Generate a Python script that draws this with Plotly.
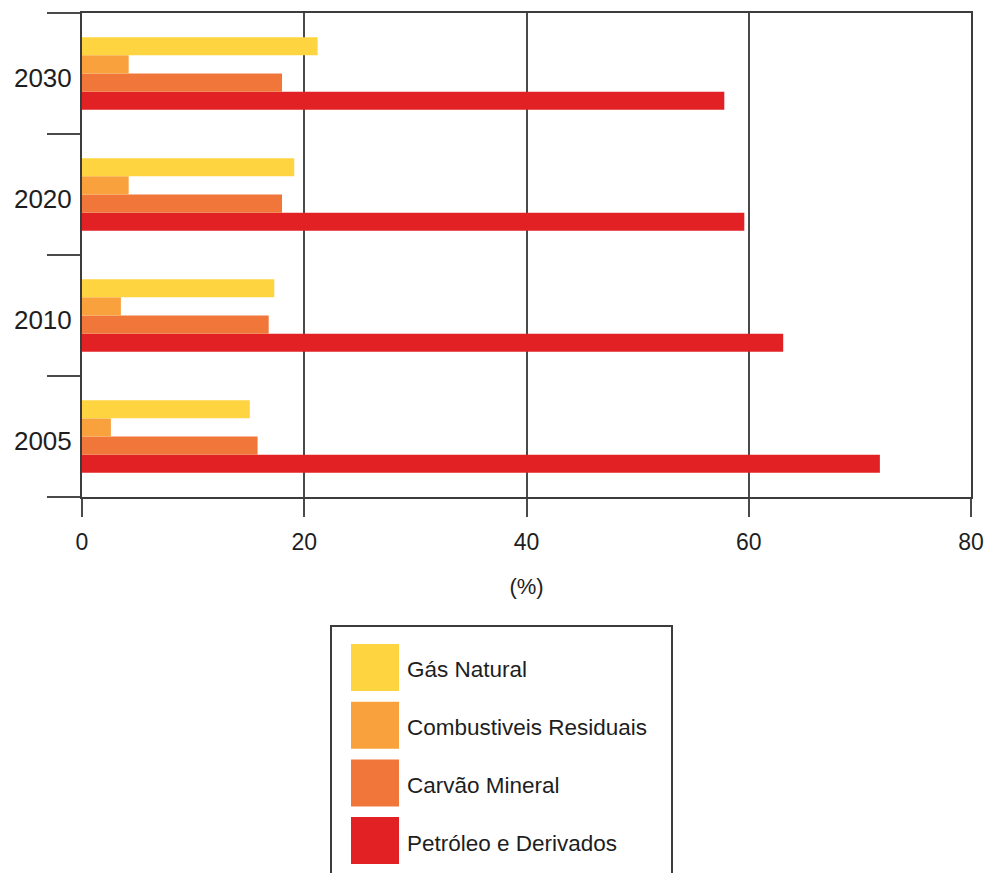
import plotly.graph_objects as go

# Participação das fontes fósseis (%) por ano
anos = ["2005", "2010", "2020", "2030"]
fontes = ["Gás Natural", "Combustiveis Residuais", "Carvão Mineral", "Petróleo e Derivados"]
gas_natural = [15.1, 17.3, 19.1, 21.2]
combustiveis_residuais = [2.6, 3.5, 4.2, 4.2]
carvao_mineral = [15.8, 16.8, 18.0, 18.0]
petroleo_derivados = [71.8, 63.1, 59.6, 57.8]
valores = [gas_natural, combustiveis_residuais, carvao_mineral, petroleo_derivados]
cores = ["#FED441", "#F9A23D", "#F1763A", "#E22124"]
x_ticks = [0, 20, 40, 60, 80]

W, H = 988, 873
ML, MR, MT, MB = 82, 17, 13, 376
PW, PH = W - ML - MR, H - MT - MB
FONT = "Liberation Sans, Arial, sans-serif"
TXT = "#1e1e1e"
LINE = "#3c3c3c"


def px_x(px):
    return (px - ML) / PW


def px_y(py):
    return (H - MB - py) / PH


fig = go.Figure()
# Plotly stacks grouped horizontal bars bottom-up, so add the last series first
for nome, vals, cor in reversed(list(zip(fontes, valores, cores))):
    fig.add_trace(go.Bar(
        y=anos, x=vals, name=nome, orientation="h",
        marker=dict(color=cor, line=dict(width=0)),
        showlegend=False,
    ))

# Legend box drawn by hand so the swatches can be large squares
shapes = [dict(type="rect", xref="paper", yref="paper",
               x0=px_x(331), x1=px_x(672), y0=px_y(626), y1=px_y(905),
               line=dict(color=LINE, width=2), fillcolor="white", layer="below")]
annotations = []
for i, (nome, cor) in enumerate(zip(fontes, cores)):
    top = 644 + i * 57.7
    shapes.append(dict(type="rect", xref="paper", yref="paper",
                       x0=px_x(351), x1=px_x(399), y0=px_y(top), y1=px_y(top + 47),
                       line=dict(width=0), fillcolor=cor))
    annotations.append(dict(xref="paper", yref="paper", x=px_x(405), y=px_y(top + 26),
                            text=nome, showarrow=False, xanchor="left", yanchor="middle",
                            font=dict(family=FONT, size=22.5, color=TXT)))

fig.update_layout(
    width=W, height=H,
    margin=dict(l=ML, r=MR, t=MT, b=MB, autoexpand=False),
    paper_bgcolor="white", plot_bgcolor="white",
    barmode="group", bargap=0.4, bargroupgap=0,
    shapes=shapes, annotations=annotations,
    font=dict(family=FONT, color=TXT),
    xaxis=dict(
        range=[0, 80], tickvals=x_ticks, ticktext=[str(v) for v in x_ticks],
        automargin=False,
        showgrid=True, gridcolor="#4a4a4a", gridwidth=2,
        zeroline=False,
        showline=True, linecolor=LINE, linewidth=2, mirror=True,
        ticks="outside", ticklen=18, tickwidth=2, tickcolor="#4a4a4a",
        ticklabelstandoff=5,
        tickfont=dict(family=FONT, size=23, color=TXT),
        title=dict(text="(%)", font=dict(family=FONT, size=22, color=TXT), standoff=25),
    ),
    yaxis=dict(
        type="category", categoryorder="array", categoryarray=anos,
        automargin=False,
        showgrid=False, zeroline=False,
        showline=True, linecolor=LINE, linewidth=2, mirror=True,
        ticks="outside", tickson="boundaries", ticklen=33, tickwidth=2, tickcolor="#4a4a4a",
        ticklabelstandoff=3, ticklabelshift=4,
        tickfont=dict(family=FONT, size=26, color=TXT),
    ),
)

fig.write_html("out.html")
